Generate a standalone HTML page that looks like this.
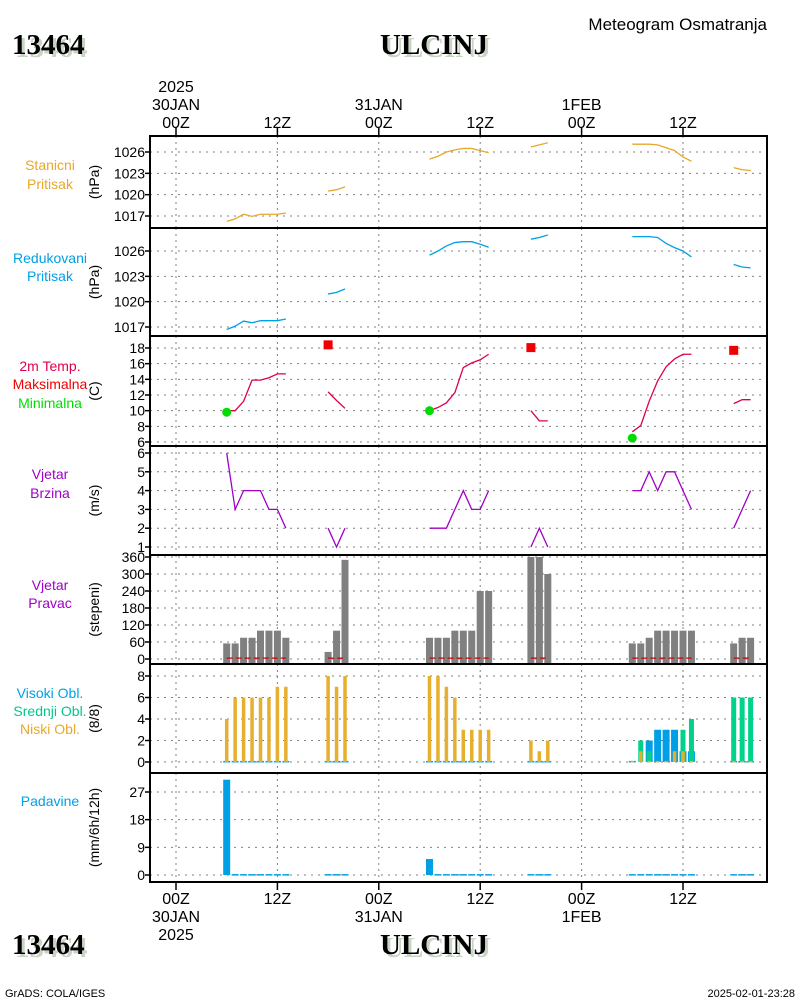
<!DOCTYPE html>
<html><head><meta charset="utf-8"><style>
html,body{margin:0;padding:0;background:#fff;}
svg{display:block;font-family:"Liberation Sans",sans-serif;}
</style></head><body>
<svg id="chart" width="800" height="1000" viewBox="0 0 800 1000" xmlns="http://www.w3.org/2000/svg">
<g>
<text x="15" y="57" font-family="Liberation Serif,serif" font-weight="bold" font-size="29" fill="#c8d4c4">13464</text>
<text x="12" y="54" font-family="Liberation Serif,serif" font-weight="bold" font-size="29" fill="#000">13464</text>
<text x="437" y="57" text-anchor="middle" font-family="Liberation Serif,serif" font-weight="bold" font-size="29" fill="#c8d4c4">ULCINJ</text>
<text x="434" y="54" text-anchor="middle" font-family="Liberation Serif,serif" font-weight="bold" font-size="29" fill="#000">ULCINJ</text>
<text x="767" y="30" text-anchor="end" font-size="17" fill="#000">Meteogram Osmatranja</text>
<text x="15" y="957" font-family="Liberation Serif,serif" font-weight="bold" font-size="29" fill="#c8d4c4">13464</text>
<text x="12" y="954" font-family="Liberation Serif,serif" font-weight="bold" font-size="29" fill="#000">13464</text>
<text x="437" y="957" text-anchor="middle" font-family="Liberation Serif,serif" font-weight="bold" font-size="29" fill="#c8d4c4">ULCINJ</text>
<text x="434" y="954" text-anchor="middle" font-family="Liberation Serif,serif" font-weight="bold" font-size="29" fill="#000">ULCINJ</text>
<text x="5" y="997" font-size="11" fill="#000">GrADS: COLA/IGES</text>
<text x="795" y="997" text-anchor="end" font-size="11" fill="#000">2025-02-01-23:28</text>
</g>
</svg>
<script>
// time categories (hours since 00Z 30JAN)
const hours = [6,7,8,9,10,11,12,13, 18,19,20, 30,31,32,33,34,35,36,37, 42,43,44, 54,55,56,57,58,59,60,61, 66,67,68];
const stationP = [1016.25,1016.6,1017.25,1016.95,1017.25,1017.25,1017.25,1017.4, 1020.5,1020.7,1021.1, 1025.0,1025.4,1026.0,1026.3,1026.5,1026.5,1026.2,1025.9, 1026.7,1027.0,1027.3, 1027.1,1027.1,1027.1,1027.0,1026.6,1026.2,1025.3,1024.7, 1023.8,1023.5,1023.4];
const reducedP = [1016.7,1017.1,1017.7,1017.5,1017.75,1017.75,1017.75,1017.95, 1020.9,1021.1,1021.5, 1025.5,1026.0,1026.6,1027.0,1027.1,1027.1,1026.8,1026.45, 1027.4,1027.6,1027.9, 1027.7,1027.7,1027.7,1027.6,1026.9,1026.4,1026.0,1025.3, 1024.4,1024.1,1024.0];
const temp = [10.0,10.0,11.2,13.9,13.9,14.2,14.7,14.7, 12.4,11.3,10.3, 10.0,10.4,11.0,12.3,15.5,16.1,16.5,17.2, 10.0,8.7,8.7, 7.3,8.1,11.2,13.8,15.6,16.6,17.2,17.2, 10.9,11.4,11.4];
const maxHours = [18,42,66];
const maxTemp = [18.4,18.05,17.7];
const minHours = [6,30,54];
const minTemp = [9.8,10.0,6.5];
const windSpeed = [6,3,4,4,4,3,3,2, 2,1,2, 2,2,2,3,4,3,3,4, 1,2,1, 4,4,5,4,5,5,4,3, 2,3,4];
const windDir = [55,55,75,75,100,100,100,75, 25,100,350, 75,75,75,100,100,100,240,240, 360,360,300, 55,55,75,100,100,100,100,100, 55,75,75];
const highCloud = [0.1,0.1,0.1,0.1,0.1,0.1,0.1,0.1, 0.1,0.1,0.1, 0.1,0.1,0.1,0.1,0.1,0.1,0.1,0.1, 0.1,0.1,0.1, 0.1,0,2,3,3,3,1,1, 0.1,0.1,0.1];
const midCloud = [0,0,0,0,0,0,0,0, 0,0,0, 0,0,0,0,0,0,0,0, 0,0,0, 0,2,1,0,0,0,3,4, 6,6,6];
const lowCloud = [4,6,6,6,6,6,7,7, 8,7,8, 8,8,7,6,3,3,3,3, 2,1,2, 0.1,1,0.1,0.1,0.1,1,1,0.1, 0.1,0.1,0.1];
const precip = [31,0.3,0.3,0.3,0.3,0.3,0.3,0.3, 0.3,0.3,0.3, 5.2,0.3,0.3,0.3,0.3,0.3,0.3,0.3, 0.3,0.3,0.3, 0.3,0.3,0.3,0.3,0.3,0.3,0.3,0.3, 0.3,0.3,0.3];
const timeTickHours = [0,12,24,36,48,60];
const timeTickLabels = ["00Z","12Z","00Z","12Z","00Z","12Z"];
const dateLabels = ["30JAN","","31JAN","","1FEB",""];
const ticksP1 = [1017,1020,1023,1026];
const ticksP2 = [1017,1020,1023,1026];
const ticksT = [6,8,10,12,14,16,18];
const ticksWS = [1,2,3,4,5,6];
const ticksWD = [0,60,120,180,240,300,360];
const ticksCl = [0,2,4,6,8];
const ticksPr = [0,9,18,27];

const NS = "http://www.w3.org/2000/svg";
const svg = document.getElementById("chart");
const X0 = 150, X1 = 767;
function xh(h){ return 176 + h * 8.45; }
function mk(tag, parent){ const e = document.createElementNS(NS, tag); parent.appendChild(e); return e; }
function lin(v1, y1, v2, y2){ return v => y1 + (v - v1) * (y2 - y1) / (v2 - v1); }

const panels = [
 {top:136,bot:228,y:lin(1017,216,1026,152),ticks:ticksP1,name:"station-pressure",labels:[["Stanicni","#e6a82d"],["Pritisak","#e6a82d"]],ly:[165,184],unit:"(hPa)"},
 {top:228,bot:336,y:lin(1017,327,1026,251),ticks:ticksP2,name:"reduced-pressure",labels:[["Redukovani","#00a0e6"],["Pritisak","#00a0e6"]],ly:[258,276],unit:"(hPa)"},
 {top:336,bot:446,y:lin(6,442,18,348),ticks:ticksT,name:"temperature",labels:[["2m Temp.","#dc0050"],["Maksimalna","#f00000"],["Minimalna","#00dc00"]],ly:[366,384,403],unit:"(C)"},
 {top:446,bot:555,y:lin(1,547,6,453),ticks:ticksWS,name:"wind-speed",labels:[["Vjetar","#a000c8"],["Brzina","#a000c8"]],ly:[474,493],unit:"(m/s)"},
 {top:555,bot:664,y:lin(0,659,360,557),ticks:ticksWD,name:"wind-direction",labels:[["Vjetar","#a000c8"],["Pravac","#a000c8"]],ly:[585,603],unit:"(stepeni)"},
 {top:664,bot:773,y:lin(0,762,8,676),ticks:ticksCl,name:"cloud-cover",labels:[["Visoki Obl.","#00a0e6"],["Srednji Obl.","#00c88c"],["Niski Obl.","#e6a82d"]],ly:[693,711,729],unit:"(8/8)"},
 {top:773,bot:882,y:lin(0,875,27,792),ticks:ticksPr,name:"precipitation",labels:[["Padavine","#00a0e6"]],ly:[801],unit:"(mm/6h/12h)"}
];

panels.forEach(p => {
  const g = mk("g", svg);
  
  
  timeTickHours.forEach(h => {
    const l = mk("line", g);
    
    
    l.setAttribute("x1", xh(h)); l.setAttribute("x2", xh(h));
    l.setAttribute("y1", p.top); l.setAttribute("y2", p.bot);
    l.setAttribute("stroke", "#808080"); l.setAttribute("stroke-dasharray", "2,4");
  });
  p.ticks.forEach(t => {
    const y = p.y(t);
    const l = mk("line", g);
    
    
    l.setAttribute("x1", X0); l.setAttribute("x2", X1);
    l.setAttribute("y1", y); l.setAttribute("y2", y);
    l.setAttribute("stroke", "#808080"); l.setAttribute("stroke-dasharray", "2,5");
    const tk = mk("line", g);
    
    
    tk.setAttribute("x1", X0 - 5); tk.setAttribute("x2", X0);
    tk.setAttribute("y1", y); tk.setAttribute("y2", y);
    tk.setAttribute("stroke", "#000"); tk.setAttribute("stroke-width", "1.5");
    const tx = mk("text", g);
    
    
    tx.setAttribute("x", X0 - 5); tx.setAttribute("y", y + 5);
    tx.setAttribute("text-anchor", "end"); tx.setAttribute("font-size", "14");
    tx.textContent = t;
  });
  p.labels.forEach((lb, i) => {
    const tx = mk("text", g);
    
    
    tx.setAttribute("x", 50); tx.setAttribute("y", p.ly[i] + 5);
    tx.setAttribute("text-anchor", "middle"); tx.setAttribute("font-size", "14");
    tx.setAttribute("fill", lb[1]); tx.textContent = lb[0];
  });
  const u = mk("text", g);
  
  
  const uy = (p.top + p.bot) / 2;
  u.setAttribute("transform", "translate(99," + uy + ") rotate(-90)");
  u.setAttribute("text-anchor", "middle"); u.setAttribute("font-size", "14");
  u.textContent = p.unit;
  p.g = g;
});

function seriesLine(p, vals, color, name){
  let seg = [];
  const segs = [];
  hours.forEach((h, i) => {
    if (i > 0 && h - hours[i-1] > 1) { segs.push(seg); seg = []; }
    seg.push([xh(h), p.y(vals[i])]);
  });
  segs.push(seg);
  segs.forEach(s => {
    const pl = mk("polyline", p.g);
    
    
    pl.setAttribute("points", s.map(q => q.join(",")).join(" "));
    pl.setAttribute("fill", "none"); pl.setAttribute("stroke", color); pl.setAttribute("stroke-width", "1.3");
  });
}
function bars(p, vals, color, w, name){
  const y0 = p.y(0);
  hours.forEach((h, i) => {
    if (vals[i] <= 0) return;
    const r = mk("rect", p.g);
    
    
    const y = p.y(vals[i]);
    r.setAttribute("x", xh(h) - w / 2); r.setAttribute("width", w);
    r.setAttribute("y", Math.min(y, y0)); r.setAttribute("height", Math.max(1.5, Math.abs(y0 - y)));
    r.setAttribute("fill", color);
  });
}

seriesLine(panels[0], stationP, "#e6a82d", "station-pressure-line");
seriesLine(panels[1], reducedP, "#00a0e6", "reduced-pressure-line");
seriesLine(panels[2], temp, "#dc0050", "temperature-line");
maxHours.forEach((h, i) => {
  const r = mk("rect", panels[2].g);
  
  
  r.setAttribute("x", xh(h) - 4.5); r.setAttribute("y", panels[2].y(maxTemp[i]) - 4.5);
  r.setAttribute("width", 9); r.setAttribute("height", 9); r.setAttribute("fill", "#f00000");
});
minHours.forEach((h, i) => {
  const c = mk("circle", panels[2].g);
  
  
  c.setAttribute("cx", xh(h)); c.setAttribute("cy", panels[2].y(minTemp[i]));
  c.setAttribute("r", 4.5); c.setAttribute("fill", "#00dc00");
});
seriesLine(panels[3], windSpeed, "#a000c8", "wind-speed-line");
(function(){
  const p = panels[4];
  hours.forEach((h, i) => {
    const r = mk("rect", p.g);
    
    
    const y = p.y(windDir[i]);
    r.setAttribute("x", xh(h) - 3.5); r.setAttribute("width", 7);
    r.setAttribute("y", y); r.setAttribute("height", p.bot - y);
    r.setAttribute("fill", "#808080");
  });
  seriesLine(p, hours.map(() => 3), "#d20000", "wind-calm-line");
  p.g.querySelectorAll('polyline').forEach(pl => pl.setAttribute("stroke-dasharray", "6,3"));
})();
bars(panels[5], highCloud, "#00a0e6", 7, "high-cloud-bar");
bars(panels[5], midCloud, "#00d28c", 5, "mid-cloud-bar");
bars(panels[5], lowCloud, "#e6af2d", 3.5, "low-cloud-bar");
bars(panels[6], precip, "#00a0e6", 7, "precipitation-bar");

panels.forEach(p => {
  const r = mk("rect", svg);
  
  
  r.setAttribute("x", X0); r.setAttribute("y", p.top);
  r.setAttribute("width", X1 - X0); r.setAttribute("height", p.bot - p.top);
  r.setAttribute("fill", "none"); r.setAttribute("stroke", "#000"); r.setAttribute("stroke-width", "2");
});

timeTickHours.forEach((h, i) => {
  const x = xh(h);
  [[128, 136, 128], [882, 890, 904]].forEach((c, k) => {
    const t = mk("line", svg);
    
    
    t.setAttribute("x1", x); t.setAttribute("x2", x);
    t.setAttribute("y1", c[0]); t.setAttribute("y2", c[1]);
    t.setAttribute("stroke", "#000"); t.setAttribute("stroke-width", "1.5");
    const tx = mk("text", svg);
    
    
    tx.setAttribute("x", x); tx.setAttribute("y", c[2]);
    tx.setAttribute("text-anchor", "middle"); tx.setAttribute("font-size", "16");
    tx.textContent = timeTickLabels[i];
    if (dateLabels[i]) {
      const d = mk("text", svg);
      
      
      d.setAttribute("x", x); d.setAttribute("y", k === 0 ? c[2] - 18 : c[2] + 18);
      d.setAttribute("text-anchor", "middle"); d.setAttribute("font-size", "16");
      d.textContent = dateLabels[i];
    }
    if (i === 0) {
      const yr = mk("text", svg);
      
      
      yr.setAttribute("x", x); yr.setAttribute("y", k === 0 ? c[2] - 36 : c[2] + 36);
      yr.setAttribute("text-anchor", "middle"); yr.setAttribute("font-size", "16");
      yr.textContent = "2025";
    }
  });
});
</script>
</body></html>
